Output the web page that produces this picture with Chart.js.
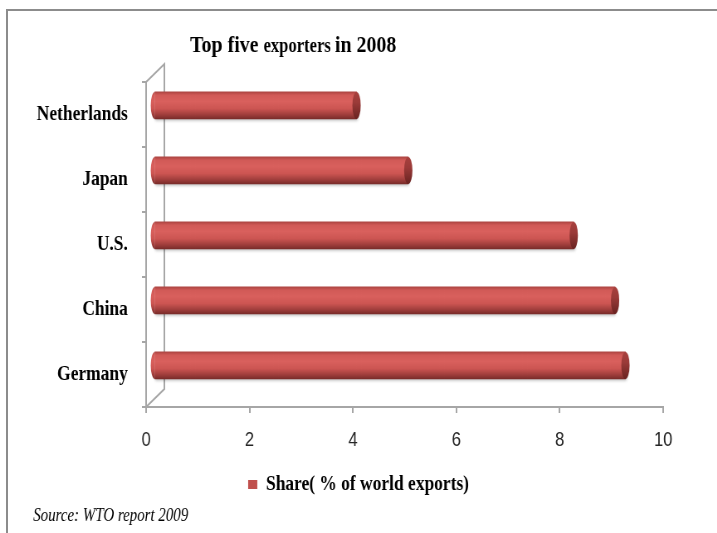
<!DOCTYPE html>
<html lang="en">
<head>
  <meta charset="UTF-8" />
  <title>Top five exporters in 2008</title>
  <script src="https://cdn.jsdelivr.net/npm/chart.js"></script>
  <style>
    html, body { margin: 0; background: #fff; overflow: hidden; }
    .frame {
      position: absolute; left: 6px; top: 9px; width: 760px; height: 600px;
      border-top: 2px solid #8c8c8c; border-left: 2px solid #8c8c8c;
    }
    /* the chart is laid out wider and squeezed, like the narrow office-style text */
    .wrap {
      position: absolute; left: 0; top: 0; width: 864px; height: 533px;
      transform: scaleX(0.83); transform-origin: 0 0;
    }
  </style>
</head>
<body>

<div class="frame"></div>
<div class="wrap"><canvas id="exportChart"></canvas></div>

<script>
const countries = ['Netherlands', 'Japan', 'U.S.', 'China', 'Germany'];
const shares = [3.9, 4.9, 8.1, 8.9, 9.1];
const xTicks = [0, 2, 4, 6, 8, 10];
const seriesName = 'Share( % of world exports)';

// bars sit half way into the 3d floor, so they are shifted right and up
const depthX = 0.17;
const depthY = 0.14;
const wallDX = 22, wallDY = 18;
const barH = 27;
const capRX = 5;
const axisGray = '#a6a6a6';

function cylinderFill(c) {
  if (c.type !== 'data' || !c.chart.scales.yb) return '#c0504d';
  const cy = c.chart.scales.yb.getPixelForValue(c.raw.y);
  const g = c.chart.ctx.createLinearGradient(0, cy - barH / 2, 0, cy + barH / 2);
  g.addColorStop(0, '#ad4542');
  g.addColorStop(0.12, '#d15a57');
  g.addColorStop(0.35, '#d9605d');
  g.addColorStop(0.62, '#cc5552');
  g.addColorStop(0.85, '#9e3d3b');
  g.addColorStop(1, '#7a2c2a');
  return g;
}

const frame3d = {
  id: 'frame3d',
  beforeDatasetsDraw(chart) {
    const { ctx, chartArea: a } = chart;
    ctx.save();
    ctx.strokeStyle = axisGray;
    ctx.lineWidth = 2;
    ctx.beginPath();
    ctx.moveTo(a.left, a.top);
    ctx.lineTo(a.left + wallDX, a.top - wallDY);
    ctx.lineTo(a.left + wallDX, a.bottom - wallDY);
    ctx.lineTo(a.left, a.bottom);
    ctx.stroke();
    ctx.restore();

    // soft shadow under the cylinders
    ctx.save();
    ctx.shadowColor = 'rgba(0,0,0,0.28)';
    ctx.shadowBlur = 3;
    ctx.shadowOffsetX = 1;
    ctx.shadowOffsetY = 2;
  },
  afterDatasetsDraw(chart) {
    const ctx = chart.ctx;
    ctx.restore();
    const meta = chart.getDatasetMeta(0);
    meta.data.forEach(bar => {
      const { x, y, base, height } = bar.getProps(['x', 'y', 'base', 'height'], true);
      const h = height / 2;
      ctx.save();
      ctx.fillStyle = bar.options.backgroundColor;
      ctx.beginPath();
      ctx.ellipse(base, y, capRX, h, 0, Math.PI / 2, Math.PI * 1.5);
      ctx.fill();

      const g = ctx.createLinearGradient(0, y - h, 0, y + h);
      g.addColorStop(0, '#a8413e');
      g.addColorStop(0.4, '#9a3a38');
      g.addColorStop(1, '#692321');
      ctx.fillStyle = g;
      ctx.beginPath();
      ctx.ellipse(x, y, capRX, h, 0, 0, Math.PI * 2);
      ctx.fill();
      ctx.restore();
    });
  },
  afterDraw(chart) {
    const ctx = chart.ctx;
    ctx.save();
    ctx.fillStyle = '#000';
    ctx.textBaseline = 'alphabetic';
    let tx = 229;
    const parts = [['Top five ', 24], ['exporters ', 20], ['in 2008', 24]];
    parts.forEach(([t, size]) => {
      ctx.font = 'bold ' + size + 'px "Liberation Serif"';
      ctx.fillText(t, tx, 52);
      tx += ctx.measureText(t).width;
    });
    ctx.font = 'italic 18px "Liberation Serif"';
    ctx.fillText('Source: WTO report 2009', 40, 521);
    ctx.restore();
  }
};

const ctx = document.getElementById('exportChart').getContext('2d');

const chart = new Chart(ctx, {
  type: 'bar',
  data: {
    labels: countries,
    datasets: [{
      label: seriesName,
      data: shares.map((v, i) => ({ x: v, y: i })),
      xAxisID: 'xb',
      yAxisID: 'yb',
      backgroundColor: cylinderFill,
      borderWidth: 0,
      borderSkipped: false,
      barThickness: barH
    }]
  },
  options: {
    indexAxis: 'y',
    responsive: true,
    maintainAspectRatio: false,
    animation: false,
    layout: { padding: { top: 82, right: 0, bottom: 28, left: 0 } },
    scales: {
      x: {
        type: 'linear',
        position: 'bottom',
        min: 0,
        max: 10,
        afterBuildTicks: s => { s.ticks = xTicks.map(v => ({ value: v })); },
        afterFit: s => { s.height = 57; },
        grid: { drawOnChartArea: false, drawTicks: true, tickLength: 6, color: axisGray, lineWidth: 2 },
        border: { color: axisGray, width: 2 },
        ticks: { color: '#262626', padding: 15, font: { family: 'Liberation Sans', size: 20 } }
      },
      xb: { type: 'linear', display: false, min: -depthX, max: 10 - depthX },
      y: {
        type: 'category',
        labels: countries,
        position: 'left',
        offset: true,
        afterFit: s => { s.width = 176; },
        grid: { offset: true, drawOnChartArea: false, drawTicks: true, tickLength: 5, color: axisGray, lineWidth: 2 },
        border: { color: axisGray, width: 2 },
        ticks: { color: '#000', padding: 17, font: { family: 'Liberation Serif', size: 21, weight: 'bold' } }
      },
      yb: {
        type: 'linear',
        display: false,
        reverse: true,
        offset: false,
        min: -0.5 + depthY,
        max: countries.length - 0.5 + depthY
      },
      yr: {
        type: 'linear',
        position: 'right',
        display: true,
        ticks: { display: false },
        grid: { display: false },
        border: { display: false },
        afterFit: s => { s.width = 65; }
      }
    },
    plugins: {
      legend: {
        position: 'bottom',
        labels: {
          generateLabels: () => [{
            text: seriesName, fillStyle: '#c0504d', strokeStyle: '#c0504d',
            lineWidth: 0, hidden: false, datasetIndex: 0
          }],
          boxWidth: 11,
          boxHeight: 9,
          padding: 10,
          color: '#000',
          font: { family: 'Liberation Serif', size: 21, weight: 'bold' }
        }
      },
      title: { display: false },
      tooltip: { enabled: false }
    }
  },
  plugins: [frame3d]
});
</script>

</body>
</html>
